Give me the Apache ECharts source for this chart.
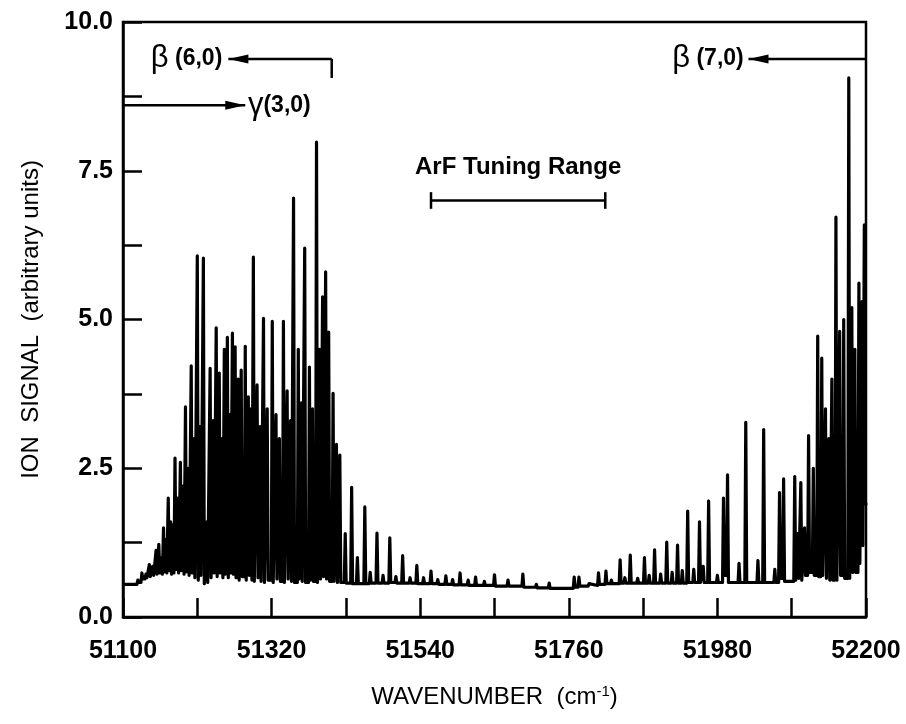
<!DOCTYPE html>
<html><head><meta charset="utf-8">
<script src="https://cdn.jsdelivr.net/npm/echarts@6/dist/echarts.min.js"></script>
<style>html,body{margin:0;padding:0;background:#fff}#c{width:906px;height:724px}</style>
</head><body><div id="c"></div>
<script>
// ---- data ----
const xTickLabels = [51100, 51320, 51540, 51760, 51980, 52200];
const yTickLabels = [0, 2.5, 5, 7.5, 10];

const peakWn = [
  51122, 51128, 51134, 51139, 51144, 51149, 51153, 51157, 51160, 51163.5,
  51167, 51170.5, 51174, 51177, 51181, 51185, 51189, 51192.5, 51196.5, 51201,
  51205, 51210, 51214, 51219, 51224, 51229, 51233.5, 51238, 51242.5, 51246.5,
  51250, 51254.5, 51258, 51262, 51266, 51270.5, 51275, 51281, 51285.5, 51289.5,
  51293, 51298.5, 51303, 51308, 51313.5, 51321, 51326.5, 51331.5, 51337.5, 51343,
  51348, 51352.5, 51359.5, 51364, 51369, 51376, 51380.5, 51386.5, 51391, 51395.5,
  51400, 51404.5, 51411, 51416, 51421, 51429, 51438.5, 51447, 51458, 51466,
  51476, 51485, 51495, 51504, 51514, 51525, 51535, 51545, 51556, 51566,
  51578, 51588, 51599, 51611, 51622, 51635, 51650, 51670, 51692, 51712,
  51731, 51768, 51775, 51790, 51804, 51815, 51823, 51836, 51843, 51851,
  51862, 51872, 51879, 51887, 51896, 51905, 51913, 51921, 51928, 51936,
  51945, 51953.5, 51959, 51967, 51980, 51989, 51995, 52012, 52022, 52040,
  52048.5, 52065, 52072, 52078, 52094.5, 52099, 52103.5, 52109, 52115, 52122,
  52128.5, 52134.5, 52140, 52145, 52149.5, 52155.5, 52161, 52167, 52174.5, 52179,
  52183.5, 52189.5, 52194, 52197.5
];
const peakHt = [
  0.62, 0.74, 0.72, 0.88, 0.85, 1.12, 1.22, 1.00, 1.50, 1.30,
  2.00, 1.60, 1.55, 2.67, 2.00, 2.60, 2.20, 3.53, 2.50, 4.22,
  3.00, 6.07, 3.20, 6.03, 1.60, 4.18, 3.30, 4.86, 4.10, 3.00,
  4.50, 4.70, 3.40, 4.77, 4.54, 4.00, 4.15, 4.55, 3.70, 3.50,
  6.05, 3.90, 3.20, 5.02, 3.50, 4.97, 3.40, 3.00, 4.97, 3.80,
  3.30, 7.04, 4.50, 3.60, 6.20, 4.20, 3.50, 7.98, 4.50, 5.38,
  5.80, 4.79, 3.76, 2.90, 2.72, 1.40, 2.18, 1.00, 1.85, 0.75,
  1.41, 0.70, 1.33, 0.68, 1.03, 0.66, 0.87, 0.66, 0.77, 0.63,
  0.69, 0.63, 0.74, 0.62, 0.67, 0.60, 0.71, 0.62, 0.72, 0.55,
  0.57, 0.67, 0.67, 0.56, 0.74, 0.77, 0.62, 0.96, 0.66, 1.04,
  0.65, 1.00, 0.70, 1.13, 0.72, 1.26, 0.75, 1.21, 0.78, 1.78,
  0.80, 1.60, 0.85, 1.95, 0.70, 2.00, 2.39, 0.90, 3.27, 0.95,
  3.15, 0.80, 2.09, 2.32, 2.36, 1.40, 2.26, 1.50, 3.05, 2.50,
  4.72, 4.35, 3.50, 3.00, 4.00, 6.72, 4.80, 5.00, 9.06, 5.20,
  4.50, 5.61, 5.30, 6.59
];
const valleyAfter = [
  0.58, 0.64, 0.66, 0.68, 0.70, 0.72, 0.74, 0.72, 0.76, 0.74,
  0.78, 0.72, 0.74, 0.80, 0.74, 0.78, 0.72, 0.76, 0.70, 0.74,
  0.66, 0.62, 0.70, 0.56, 0.58, 0.66, 0.74, 0.68, 0.74, 0.66,
  0.72, 0.66, 0.74, 0.72, 0.66, 0.62, 0.68, 0.62, 0.70, 0.62,
  0.60, 0.66, 0.60, 0.58, 0.62, 0.58, 0.64, 0.60, 0.58, 0.64,
  0.60, 0.58, 0.64, 0.60, 0.58, 0.62, 0.60, 0.58, 0.64, 0.68,
  0.64, 0.60, 0.60, 0.58, 0.58, 0.57, 0.56, 0.56, 0.56, 0.57,
  0.57, 0.57, 0.58, 0.57, 0.57, 0.57, 0.56, 0.56, 0.56, 0.55,
  0.55, 0.54, 0.54, 0.53, 0.53, 0.53, 0.52, 0.52, 0.50, 0.49,
  0.48, 0.50, 0.52, 0.53, 0.55, 0.56, 0.56, 0.57, 0.57, 0.57,
  0.57, 0.57, 0.57, 0.57, 0.57, 0.57, 0.57, 0.57, 0.57, 0.58,
  0.58, 0.58, 0.58, 0.58, 0.58, 0.70, 0.58, 0.58, 0.58, 0.58,
  0.58, 0.58, 0.65, 0.60, 0.62, 0.65, 0.62, 0.70, 0.75, 0.70,
  0.68, 0.70, 0.65, 0.62, 0.62, 0.62, 0.70, 0.65, 0.65, 0.75,
  0.75, 0.90, 1.20, 1.90
];
const traceStart = [51103, 0.55];
const traceEnd = [52200, 1.90];

// ---- build the trace (each peak drawn as a narrow spike) ----
const HALF = 1.4;
const trace = [traceStart];
let prevLevel = traceStart[1];
for (let i = 0; i < peakWn.length; i++) {
  trace.push([peakWn[i] - HALF, prevLevel]);
  trace.push([peakWn[i], peakHt[i]]);
  trace.push([peakWn[i] + HALF, valleyAfter[i]]);
  prevLevel = valleyAfter[i];
}
trace.push(traceEnd);

const FONT = '"Liberation Sans", Arial, Helvetica, sans-serif';
const chart = echarts.init(document.getElementById('c'), null, {renderer: 'canvas'});

chart.setOption({
  animation: false,
  backgroundColor: '#fff',
  grid: {left: 123, right: 40, top: 22, bottom: 107, show: true, borderColor: '#000', borderWidth: 2.5, containLabel: false},
  xAxis: {
    type: 'value', min: xTickLabels[0], max: xTickLabels[xTickLabels.length - 1], interval: xTickLabels[1] - xTickLabels[0],
    axisLine: {show: true, lineStyle: {color: '#000', width: 2.5}},
    axisTick: {show: true, inside: true, length: 19, lineStyle: {color: '#000', width: 2.5}},
    minorTick: {show: true, splitNumber: 2, length: 19, lineStyle: {color: '#000', width: 2.5}},
    splitLine: {show: false}, minorSplitLine: {show: false},
    axisLabel: {margin: 22, color: '#000', fontSize: 25, fontWeight: 'bold', fontFamily: FONT, formatter: v => String(v)},
    name: 'WAVENUMBER  (cm{sup|-1})', nameLocation: 'middle', nameGap: 67,
    nameTextStyle: {color: '#000', fontSize: 24, fontFamily: FONT, rich: {sup: {fontSize: 15, verticalAlign: 'top', color: '#000', fontFamily: FONT, padding: [0, 0, 12, 0]}}}
  },
  yAxis: {
    type: 'value', min: yTickLabels[0], max: yTickLabels[yTickLabels.length - 1], interval: yTickLabels[1] - yTickLabels[0],
    axisLine: {show: true, lineStyle: {color: '#000', width: 2.5}},
    axisTick: {show: true, inside: true, length: 19, lineStyle: {color: '#000', width: 2.5}},
    minorTick: {show: true, splitNumber: 2, length: 19, lineStyle: {color: '#000', width: 2.5}},
    splitLine: {show: false}, minorSplitLine: {show: false},
    axisLabel: {margin: 10, color: '#000', fontSize: 25, fontWeight: 'bold', fontFamily: FONT, formatter: v => v.toFixed(1)},
    name: 'ION  SIGNAL  (arbitrary units)', nameLocation: 'middle', nameGap: 80, nameRotate: 90,
    nameTextStyle: {color: '#000', fontSize: 24, fontFamily: FONT}
  },
  series: [{
    type: 'line', data: trace, showSymbol: false, symbol: 'none', clip: true,
    lineStyle: {color: '#000', width: 3.2, join: 'round', cap: 'round'},
    emphasis: {disabled: true}
  }]
});

// ---- annotations placed in data coordinates ----
const P = (x, y) => chart.convertToPixel({gridIndex: 0}, [x, y]);
const g = [];
const LS = {stroke: '#000', lineWidth: 2.5};
function line(a, b) { g.push({type: 'line', shape: {x1: a[0], y1: a[1], x2: b[0], y2: b[1]}, style: LS, z: 100}); }
function arrow(from, tip) {
  line(from, tip);
  const dir = Math.sign(from[0] - tip[0]);
  g.push({type: 'polygon', shape: {points: [[tip[0], tip[1]], [tip[0] + dir * 20, tip[1] - 4.5], [tip[0] + dir * 20, tip[1] + 4.5]]}, style: {fill: '#000'}, z: 100});
}
function label(pt, parts, align) {
  g.push({type: 'text', x: pt[0], y: pt[1], z: 100, style: {
    text: parts, align: align, verticalAlign: 'middle', fill: '#000', font: 'bold 22px ' + FONT,
    rich: {b: {fontSize: 31, fontFamily: FONT, fill: '#000', fontWeight: 'normal'}, s: {fontSize: 23, fontFamily: FONT, fill: '#000', fontWeight: 'bold'}}
  }});
}
// beta(6,0)
const b6a = P(51409, 9.38), b6t = P(51256, 9.38);
arrow(b6a, b6t); line(b6a, P(51409, 9.06));
label(P(51247, 9.38), '{b|β}{s| (6,0)}', 'right');
// gamma(3,0)
arrow(P(51100, 8.6), P(51281, 8.6));
label(P(51285, 8.6), '{b|γ}{s|(3,0)}', 'left');
// beta(7,0)
arrow(P(52200, 9.38), P(52026, 9.38));
label(P(52019, 9.38), '{b|β}{s| (7,0)}', 'right');
// ArF tuning range
const a1 = P(51556, 7.0), a2 = P(51814, 7.0);
line(a1, a2);
line(P(51556, 7.14), P(51556, 6.86));
line(P(51814, 7.14), P(51814, 6.86));
g.push({type: 'text', x: (a1[0] + a2[0]) / 2, y: P(51685, 7.55)[1], z: 100,
  style: {text: 'ArF Tuning Range', align: 'center', verticalAlign: 'middle', fill: '#000', font: 'bold 24px ' + FONT}});
chart.setOption({graphic: g});
</script>
</body></html>
